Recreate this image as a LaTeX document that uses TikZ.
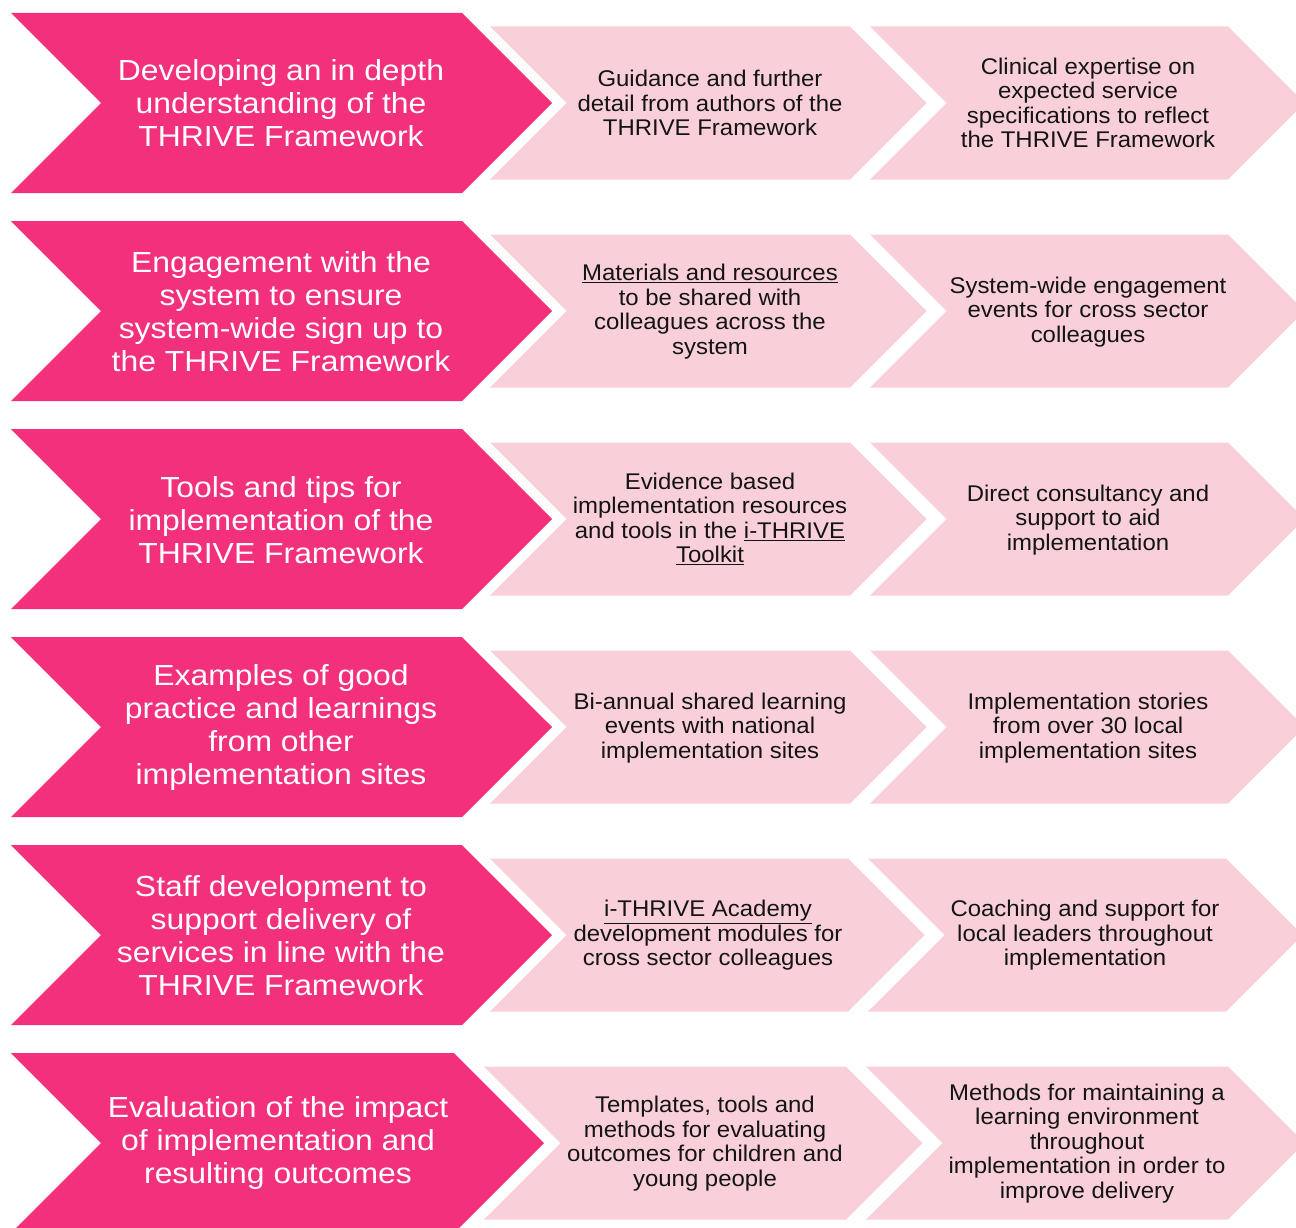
\documentclass[tikz,border=0pt]{standalone}
\usepackage{fontspec}
\setmainfont{Liberation Sans}
\newfontfamily\darkfont[FakeStretch=1.10]{Liberation Sans}
\newfontfamily\lightfont[FakeStretch=1.055]{Liberation Sans}
\definecolor{darkpink}{RGB}{242,48,123}
\definecolor{lightpink}{RGB}{249,208,218}
\tikzset{
  dtext/.style={text=white, align=center, font=\darkfont\fontsize{29}{33}\selectfont, inner sep=0pt},
  ltext/.style={text=black!92, align=center, font=\lightfont\fontsize{22.7}{24.5}\selectfont, inner sep=0pt},
  darkchev/.style={fill=darkpink},
  lightchev/.style={fill=lightpink},
}
% #1 left x, #2 top-right x, #3 centre y, #4 half height, #5 style
\newcommand{\chevshape}[5]{%
  \fill[#5] (#1,#3-#4) -- (#2,#3-#4) -- (#2+#4,#3) -- (#2,#3+#4) -- (#1,#3+#4) -- (#1+#4,#3) -- cycle;}
\begin{document}
\begin{tikzpicture}[x=1pt,y=-1pt]
\clip (0,0) rectangle (1296,1228);
\fill[white] (0,0) rectangle (1296,1228);

% Row 1
\chevshape{11}{462}{103}{90}{darkchev}
\chevshape{490}{850}{103}{76.5}{lightchev}
\chevshape{870}{1228}{103}{76.5}{lightchev}
\node[dtext] (d1) at (281,103) {Developing an in depth\\understanding of the\\THRIVE Framework};
\node[ltext] (a1) at (710,103) {Guidance and further\\detail from authors of the\\THRIVE Framework};
\node[ltext] (b1) at (1088,103) {Clinical expertise on\\expected service\\specifications to reflect\\the THRIVE Framework};

% Row 2
\chevshape{11}{462}{311}{90}{darkchev}
\chevshape{490}{850}{311}{76.5}{lightchev}
\chevshape{870}{1228}{311}{76.5}{lightchev}
\node[dtext] (d2) at (281,311.5) {Engagement with the\\system to ensure\\system-wide sign up to\\the THRIVE Framework};
\node[ltext] (a2) at (710,311.5) {\underline{Materials and resources}\\to be shared with\\colleagues across the\\system};
\node[ltext] (b2) at (1088,312) {System-wide engagement\\events for cross sector\\colleagues};

% Row 3
\chevshape{11}{462}{519}{90}{darkchev}
\chevshape{490}{850}{519}{76.5}{lightchev}
\chevshape{870}{1228}{519}{76.5}{lightchev}
\node[dtext] (d3) at (281,520) {Tools and tips for\\implementation of the\\THRIVE Framework};
\node[ltext] (a3) at (710,519) {Evidence based\\implementation resources\\and tools in the \underline{i-THRIVE}\\\underline{Toolkit}};
\node[ltext] (b3) at (1088,520) {Direct consultancy and\\support to aid\\implementation};

% Row 4
\chevshape{11}{462}{727}{90}{darkchev}
\chevshape{490}{850}{727}{76.5}{lightchev}
\chevshape{870}{1228}{727}{76.5}{lightchev}
\node[dtext] (d4) at (281,727.5) {Examples of good\\practice and learnings\\from other\\implementation sites};
\node[ltext] (a4) at (710,728) {Bi-annual shared learning\\events with national\\implementation sites};
\node[ltext] (b4) at (1088,728) {Implementation stories\\from over 30 local\\implementation sites};

% Row 5
\chevshape{11}{462}{935}{90}{darkchev}
\chevshape{490}{848}{935}{76.5}{lightchev}
\chevshape{868}{1226}{935}{76.5}{lightchev}
\node[dtext] (d5) at (281,935.5) {Staff development to\\support delivery of\\services in line with the\\THRIVE Framework};
\node[ltext] (a5) at (708,935.5) {\underline{i-THRIVE Academy}\\development modules for\\cross sector colleagues};
\node[ltext] (b5) at (1085,935.5) {Coaching and support for\\local leaders throughout\\implementation};

% Row 6
\chevshape{11}{454}{1143}{90}{darkchev}
\chevshape{484}{846}{1143}{76.5}{lightchev}
\chevshape{866}{1228}{1143}{76.5}{lightchev}
\node[dtext] (d6) at (278,1143) {Evaluation of the impact\\of implementation and\\resulting outcomes};
\node[ltext] (a6) at (705,1143.5) {Templates, tools and\\methods for evaluating\\outcomes for children and\\young people};
\node[ltext] (b6) at (1087,1143.5) {Methods for maintaining a\\learning environment\\throughout\\implementation in order to\\improve delivery};
\end{tikzpicture}
\end{document}
